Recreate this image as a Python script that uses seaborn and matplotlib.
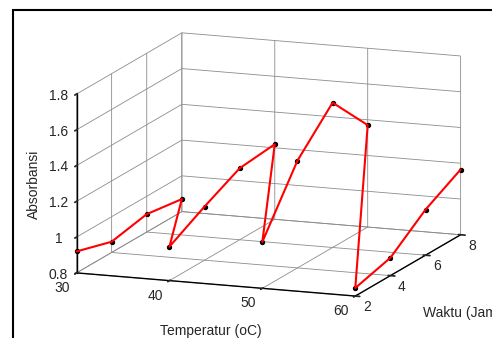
import numpy as np
import pandas as pd
import seaborn as sns
import matplotlib
matplotlib.use("Agg")
import matplotlib.pyplot as plt
from matplotlib.patches import Rectangle

# Data (line goes through each temperature, time 2..8)
temperature = [30, 30, 30, 30, 40, 40, 40, 40, 50, 50, 50, 50, 60, 60, 60, 60]
waktu = [2, 4, 6, 8, 2, 4, 6, 8, 2, 4, 6, 8, 2, 4, 6, 8]
absorbansi = [0.92, 0.86, 0.90, 0.87,
              0.99, 1.10, 1.20, 1.22,
              1.06, 1.40, 1.61, 1.37,
              0.845, 0.90, 1.055, 1.165]

x_ticks = [30, 40, 50, 60]
y_ticks = [2, 4, 6, 8]
z_ticks = [0.8, 1.0, 1.2, 1.4, 1.6, 1.8]
z_ticklabels = ["0.8", "1", "1.2", "1.4", "1.6", "1.8"]

x_label = "Temperatur (oC)"
y_label = "Waktu (Jam)"
z_label = "Absorbansi"

df = pd.DataFrame({"T": temperature, "t": waktu, "A": absorbansi})

sns.set_theme(style="white")
plt.rcParams["font.family"] = ["Liberation Sans", "DejaVu Sans"]
plt.rcParams["font.size"] = 10

fig = plt.figure(figsize=(4.92, 3.38), dpi=100)
ax = fig.add_axes([18 / 492, 0.0, 1.0, 1.0], projection="3d", proj_type="ortho")
ax.view_init(elev=12.7, azim=-69.3)
ax.set_box_aspect((1, 1, 0.615), zoom=1.32)

ax.plot(df["T"], df["t"], df["A"], color="red", lw=1.5, zorder=5, clip_on=False)
ax.scatter(df["T"], df["t"], df["A"], color="black", s=8, depthshade=False,
           zorder=6, clip_on=False)

ax.set_xlim(30, 60)
ax.set_ylim(2, 8)
ax.set_zlim(0.8, 1.8)
ax.set_xticks(x_ticks)
ax.set_yticks(y_ticks)
ax.set_zticks(z_ticks)
ax.set_zticklabels(z_ticklabels)
ax.zaxis.set_ticks_position("lower")

for axis in (ax.xaxis, ax.yaxis, ax.zaxis):
    axis.set_pane_color((1, 1, 1, 0))
    axis.pane.set_edgecolor((0.5, 0.5, 0.5))
    axis.pane.set_linewidth(0.6)
    axis._axinfo["grid"]["color"] = (0.55, 0.55, 0.55)
    axis._axinfo["grid"]["linewidth"] = 0.6
    axis._axinfo["axisline"]["color"] = "black"
    axis.line.set_color("black")
    axis.line.set_linewidth(1.0)
ax.tick_params(labelsize=10)
ax.xaxis.set_tick_params(pad=0)
ax.yaxis.set_tick_params(pad=-1)
ax.zaxis.set_tick_params(pad=-2)

for lbl in ax.get_xticklabels():
    lbl.set_verticalalignment("center")
    lbl.set_horizontalalignment("right")
for lbl in ax.get_yticklabels():
    lbl.set_verticalalignment("center")
    lbl.set_horizontalalignment("right")
for lbl in ax.get_zticklabels():
    lbl.set_verticalalignment("center")
    lbl.set_horizontalalignment("center")

# axis titles placed as in the reference (MATLAB-style, unrotated)
fig.text(211 / 492, 1 - 331 / 338, x_label, ha="center", va="center", fontsize=10)
fig.text(423 / 492, 1 - 313 / 338, y_label, ha="left", va="center", fontsize=10)
fig.text(34 / 492, 1 - 184 / 338, z_label, ha="center", va="center",
         rotation=90, fontsize=10)

fig.patches.append(Rectangle((13 / 492, -0.5), 2.0, 0.5 + (1 - 10 / 338),
                             transform=fig.transFigure, fill=False,
                             edgecolor="black", lw=1.5, clip_on=False))

fig.savefig("out.png", dpi=100)
